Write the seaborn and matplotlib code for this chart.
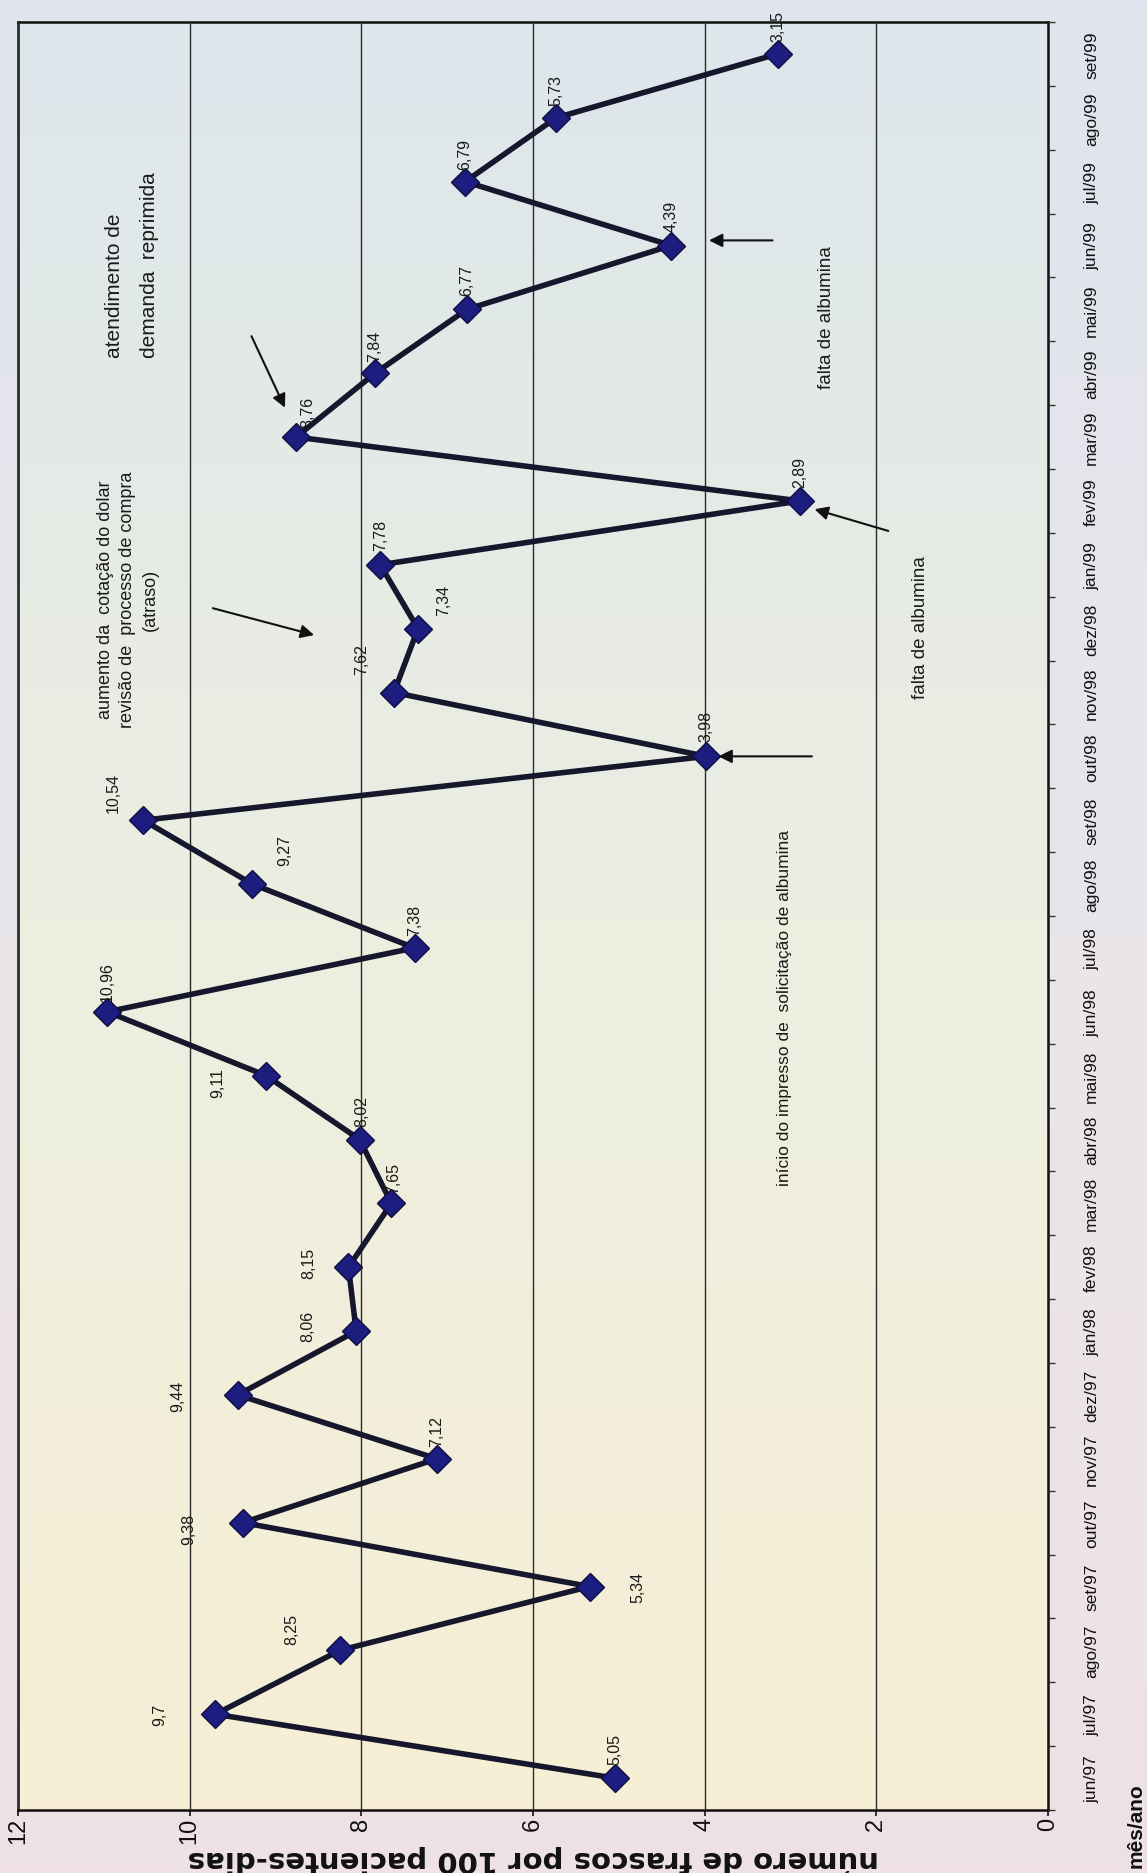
import numpy as np
import pandas as pd
import matplotlib
matplotlib.use("Agg")
import matplotlib.pyplot as plt
import seaborn as sns
from matplotlib.colors import to_rgb

# --- data -------------------------------------------------------------
months = ["jun/97", "jul/97", "ago/97", "set/97", "out/97", "nov/97", "dez/97",
          "jan/98", "fev/98", "mar/98", "abr/98", "mai/98", "jun/98", "jul/98",
          "ago/98", "set/98", "out/98", "nov/98", "dez/98", "jan/99", "fev/99",
          "mar/99", "abr/99", "mai/99", "jun/99", "jul/99", "ago/99", "set/99"]
values = [5.05, 9.7, 8.25, 5.34, 9.38, 7.12, 9.44, 8.06, 8.15, 7.65, 8.02, 9.11,
          10.96, 7.38, 9.27, 10.54, 3.98, 7.62, 7.34, 7.78, 2.89, 8.76, 7.84,
          6.77, 4.39, 6.79, 5.73, 3.15]
value_ticks = [0, 2, 4, 6, 8, 10, 12]

# label offsets (pixels) relative to each point, in the rotated layout
label_offsets = [(0, 30), (-56, 0), (-48, 22), (48, 0), (-54, -6), (0, 28),
                 (-60, 0), (-48, 6), (-40, 5), (2, 26), (2, 29), (-48, -6),
                 (0, 31), (0, 28), (32, 35), (-30, 28), (0, 31), (-32, 34),
                 (26, 29), (0, 30), (0, 29), (12, 26), (0, 28), (0, 30),
                 (0, 30), (0, 28), (0, 28), (0, 28)]

df = pd.DataFrame({"mes": months, "pos": np.arange(len(months)), "valor": values})

sns.set_theme(style="white")
plt.rcParams["font.family"] = ["Liberation Sans", "DejaVu Sans"]

W, H = 1147, 1874
fig = plt.figure(figsize=(W / 100, H / 100), dpi=100)


def vgrad(top, bottom, mid=None, n=256):
    t = np.linspace(0, 1, n)[:, None]
    a, b = np.array(to_rgb(top)), np.array(to_rgb(bottom))
    if mid is None:
        g = a * (1 - t) + b * t
    else:
        m = np.array(to_rgb(mid))
        g = np.where(t < 0.5, a * (1 - 2 * t) + m * (2 * t),
                     m * (2 - 2 * t) + b * (2 * t - 1))
    return g[:, None, :]


# page background
bg = fig.add_axes([0, 0, 1, 1], zorder=-10)
bg.imshow(vgrad("#dfe4ee", "#efe1e6", "#e9e6ea"), aspect="auto",
          extent=[0, 1, 0, 1], origin="upper")
bg.axis("off")

# plot area (values run right-to-left, months bottom-to-top)
ax = fig.add_axes([18 / W, 1 - 1811 / H, 1030 / W, 1788 / H])
ax.imshow(vgrad("#dde6ec", "#f7eed5", "#eceee1"), aspect="auto",
          extent=[12, 0, -0.5, 27.5], origin="upper", zorder=0)

ax.xaxis.grid(True, color="#2b2b2b", lw=1.0, zorder=1)
ax.set_axisbelow(False)

sns.lineplot(data=df, x="valor", y="pos", orient="y", sort=False, ax=ax,
             color="#16162c", lw=4.0, marker="D", markersize=14,
             markerfacecolor="#1d1d80", markeredgecolor="#0e0e40",
             markeredgewidth=1.0, zorder=5)

for (v, p), (dx, dy) in zip(zip(values, df["pos"]), label_offsets):
    txt = f"{v:.2f}".rstrip("0").replace(".", ",")
    ax.annotate(txt, xy=(v, p), xytext=(dx, dy), textcoords="offset pixels",
                rotation=90, ha="center", va="center", fontsize=11.5,
                color="#1a1a1a", zorder=6)

ax.set_xlim(12, 0)
ax.set_ylim(-0.5, len(months) - 0.5)

# value axis
ax.set_xticks(value_ticks)
ax.set_xticklabels([str(t) for t in value_ticks], rotation=90, fontsize=17)
ax.tick_params(axis="x", direction="out", length=4, width=1.2, pad=1,
               bottom=True, colors="#111111")
ax.set_xlabel("")
fig.text(533 / W, 1 - 1860 / H, "número de frascos por 100 pacientes-dias",
         rotation=180, ha="center", va="center", fontsize=21,
         fontweight="bold", family=["DejaVu Sans"], color="#111111")

# month axis on the right
ax.yaxis.tick_right()
ax.set_yticks(df["pos"])
ax.set_yticklabels(months, rotation=90, va="center", fontsize=12.5)
ax.set_yticks(np.arange(-0.5, len(months), 1), minor=True)
ax.tick_params(axis="y", which="major", length=0, pad=26, colors="#111111")
ax.tick_params(axis="y", which="minor", right=True, left=False, length=5,
               width=1.0, direction="out", color="#333333")
ax.set_ylabel("")

for s in ax.spines.values():
    s.set_visible(True)
    s.set_color("#111111")
    s.set_linewidth(1.8)

# annotations
def note(text, v, p, **kw):
    ax.text(v, p, text, rotation=90, ha="center", va="center",
            fontsize=kw.pop("fontsize", 12.5), color="#1a1a1a", zorder=6, **kw)

def arrow(tail, head):
    ax.annotate("", xy=head, xytext=tail,
                arrowprops=dict(arrowstyle="-|>", color="#111111", lw=1.5,
                                mutation_scale=20, shrinkA=0, shrinkB=0),
                zorder=6)

note("aumento da  cotação do dolar\nrevisão de  processo de compra\n(atraso)",
     10.72, 18.47, multialignment="center", linespacing=1.4, fontsize=13)
ax.text(10.67, 22.26, "atendimento de\ndemanda  reprimida", rotation=90,
        ha="center", va="bottom", multialignment="left", fontsize=15,
        linespacing=2.1, color="#1a1a1a", zorder=6)
note("falta de albumina", 2.58, 22.88, fontsize=13.5)
note("falta de albumina", 1.49, 18.04, fontsize=13.5)
note("início do impresso de  solicitação de albumina", 3.07, 12.07, fontsize=12.5)

arrow((2.75, 16.0), (3.84, 16.0))
arrow((1.86, 19.53), (2.72, 19.87))
arrow((3.21, 24.08), (3.95, 24.08))
arrow((9.28, 22.58), (8.89, 21.46))
arrow((9.73, 18.32), (8.55, 17.90))

fig.text(1136 / W, 1 - 1826 / H, "mês/ano", rotation=90, ha="center",
         va="center", fontsize=15, fontweight="bold", color="#111111")

fig.savefig("out.png", dpi=100)
